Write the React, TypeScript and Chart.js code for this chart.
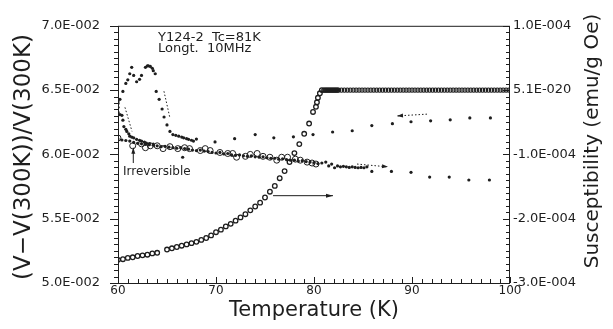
import React, { useEffect, useRef } from "react";
import { Chart, registerables } from "chart.js";

Chart.register(...registerables);

const FONT = '"DejaVu Sans", "Liberation Sans", sans-serif';
const INK = "#1e1e1e";

// ---- axis ticks ----
const xTicks = [60, 70, 80, 90, 100];
const leftTicks = [0.05, 0.055, 0.06, 0.065, 0.07];
const rightTicks = [-3, -2, -1, 0, 1]; // units of 1E-004 emu/g Oe

// ---- susceptibility (right axis, units of 1E-004), open circles ----
const suscT = [60.0, 60.5, 61.0, 61.5, 62.0, 62.5, 63.0, 63.5, 64.0, 65.0, 65.5, 66.0, 66.5, 67.0, 67.5, 68.0, 68.5, 69.0, 69.5, 70.0, 70.5, 71.0, 71.5, 72.0, 72.5, 73.0, 73.5, 74.0, 74.5, 75.0, 75.5, 76.0, 76.5, 77.0, 77.5, 78.0, 78.5, 79.0, 79.5, 79.9, 80.2, 80.3, 80.4, 80.6, 80.8];
const suscV = [-2.64, -2.63, -2.61, -2.60, -2.58, -2.57, -2.56, -2.54, -2.53, -2.48, -2.46, -2.44, -2.42, -2.40, -2.38, -2.36, -2.33, -2.30, -2.26, -2.21, -2.17, -2.12, -2.08, -2.03, -1.98, -1.93, -1.87, -1.81, -1.75, -1.67, -1.58, -1.49, -1.37, -1.26, -1.12, -0.98, -0.84, -0.68, -0.52, -0.34, -0.26, -0.19, -0.12, -0.05, 0];
const suscFlatT = [81.0, 81.1, 81.2, 81.3, 81.4, 81.5, 81.6, 81.7, 81.8, 81.9, 82.0, 82.1, 82.2, 82.3, 82.4, 82.5, 82.8, 83.1, 83.4, 83.7, 84.0, 84.3, 84.6, 84.9, 85.2, 85.5, 85.8, 86.1, 86.4, 86.7, 87.0, 87.3, 87.6, 87.9, 88.2, 88.5, 88.8, 89.1, 89.4, 89.7, 90.0, 90.3, 90.6, 90.9, 91.2, 91.5, 91.8, 92.1, 92.4, 92.7, 93.0, 93.3, 93.6, 93.9, 94.2, 94.5, 94.8, 95.1, 95.4, 95.7, 96.0, 96.3, 96.6, 96.9, 97.2, 97.5, 97.8, 98.1, 98.4, 98.7, 99.0, 99.3, 99.6, 99.9];
const suscFlatV = [0, 0, 0, 0, 0, 0, 0, 0, 0, 0, 0, 0, 0, 0, 0, 0, 0, 0, 0, 0, 0, 0, 0, 0, 0, 0, 0, 0, 0, 0, 0, 0, 0, 0, 0, 0, 0, 0, 0, 0, 0, 0, 0, 0, 0, 0, 0, 0, 0, 0, 0, 0, 0, 0, 0, 0, 0, 0, 0, 0, 0, 0, 0, 0, 0, 0, 0, 0, 0, 0, 0, 0, 0, 0];

// ---- (V-V(300K))/V(300K), left axis ----
// peak branch (filled dots)
const peakT = [60.0, 60.0, 60.2, 60.5, 60.8, 61.0, 61.2, 61.4, 61.6, 61.9, 62.2, 62.4, 62.8, 63.0, 63.1, 63.3, 63.5, 63.6, 63.8, 63.9, 64.2, 64.5, 64.7, 65.0, 65.3, 65.6, 65.9, 66.2, 66.5, 66.7, 67.0, 67.2, 67.5, 67.7, 68.0];
const peakV = [0.06395, 0.06410, 0.06428, 0.06490, 0.06552, 0.06580, 0.06627, 0.06677, 0.06614, 0.06565, 0.06584, 0.06614, 0.06677, 0.06689, 0.06689, 0.06684, 0.06670, 0.06651, 0.06627, 0.06490, 0.06428, 0.06353, 0.06291, 0.06229, 0.06179, 0.06154, 0.06148, 0.06142, 0.06135, 0.06129, 0.06122, 0.06117, 0.06110, 0.06104, 0.06119];
// sparse upper continuation (filled dots)
const upperT = [69.9, 71.9, 74.0, 75.9, 77.9, 79.9, 81.9, 83.9, 85.9, 88.0, 89.9, 91.9, 93.9, 95.9, 98.0];
const upperV = [0.06097, 0.06122, 0.06154, 0.06129, 0.06137, 0.06154, 0.06174, 0.06184, 0.06224, 0.06239, 0.06254, 0.06261, 0.06269, 0.06284, 0.06284];
// falling branch near 60 K (filled dots)
const fallT = [60.0, 60.0, 60.2, 60.4, 60.5, 60.6, 60.8, 60.9, 61.1, 61.2, 61.4, 61.6, 61.9, 62.2, 62.4, 62.7, 62.9, 63.2, 63.6];
const fallV = [0.06366, 0.06328, 0.06310, 0.06304, 0.06266, 0.06216, 0.06195, 0.06179, 0.06160, 0.06142, 0.06135, 0.06129, 0.06117, 0.06110, 0.06104, 0.06095, 0.06087, 0.06084, 0.06080];
// lower dense band (filled dots)
const bandT = [60.0, 60.4, 60.8, 61.2, 61.6, 62.0, 62.4, 62.8, 63.2, 63.6, 64.0, 64.4, 64.8, 65.2, 65.6, 66.0, 66.4, 66.8, 67.2, 67.6, 68.0, 68.4, 68.8, 69.2, 69.6, 70.0, 70.4, 70.8, 71.2, 71.6, 72.0, 72.4, 72.8, 73.2, 73.6, 74.0, 74.4, 74.8, 75.2, 75.6, 76.0, 76.4, 76.8, 77.2, 77.6, 78.0, 78.4, 78.8, 79.2, 79.6, 80.0, 80.4, 80.8, 81.2, 81.5, 81.8, 82.1, 82.4, 82.7, 83.0, 83.3, 83.6, 83.9, 84.2, 84.5, 84.8, 85.1, 85.4];
const bandV = [0.06119, 0.06112, 0.06108, 0.06104, 0.06093, 0.06086, 0.06082, 0.06078, 0.06075, 0.06071, 0.06067, 0.06060, 0.06063, 0.06056, 0.06052, 0.06048, 0.06052, 0.06045, 0.06041, 0.06034, 0.06030, 0.06034, 0.06026, 0.06022, 0.06015, 0.06011, 0.06015, 0.06004, 0.06007, 0.05996, 0.05993, 0.05996, 0.05989, 0.05985, 0.05989, 0.05981, 0.05978, 0.05981, 0.05974, 0.05970, 0.05970, 0.05963, 0.05966, 0.05959, 0.05955, 0.05955, 0.05948, 0.05951, 0.05944, 0.05940, 0.05937, 0.05929, 0.05933, 0.05940, 0.05910, 0.05925, 0.05896, 0.05910, 0.05903, 0.05907, 0.05903, 0.05899, 0.05903, 0.05899, 0.05896, 0.05899, 0.05896, 0.05903];
// sparse lower continuation (filled dots)
const tailT = [66.6, 85.9, 87.9, 89.9, 91.8, 93.8, 95.8, 97.9];
const tailV = [0.05978, 0.05868, 0.05868, 0.05861, 0.05824, 0.05824, 0.05801, 0.05801];
// open circles in the band
const openT = [60.0, 61.5, 62.4, 62.8, 63.3, 64.0, 64.6, 65.3, 66.1, 66.8, 67.3, 68.4, 68.9, 69.4, 70.4, 71.2, 71.7, 72.1, 73.0, 73.5, 74.2, 74.8, 75.5, 76.2, 76.7, 77.3, 78.1, 78.6, 79.3, 79.8, 80.2];
const openV = [0.06127, 0.06067, 0.06082, 0.06052, 0.06067, 0.06067, 0.06045, 0.06060, 0.06045, 0.06052, 0.06045, 0.06030, 0.06045, 0.06030, 0.06015, 0.06007, 0.06007, 0.05978, 0.05985, 0.06000, 0.06007, 0.05985, 0.05978, 0.05955, 0.05978, 0.05978, 0.05963, 0.05955, 0.05940, 0.05933, 0.05925];

const pts = (xs: number[], ys: number[]) => xs.map((x, i) => ({ x, y: ys[i] }));

function arrow(ctx: CanvasRenderingContext2D, x1: number, y1: number, x2: number, y2: number, dashed: boolean, head = 6) {
  ctx.save();
  ctx.strokeStyle = INK;
  ctx.fillStyle = INK;
  ctx.lineWidth = 1;
  if (dashed) ctx.setLineDash([1.5, 2]);
  ctx.beginPath();
  ctx.moveTo(x1, y1);
  ctx.lineTo(x2, y2);
  ctx.stroke();
  ctx.setLineDash([]);
  if (head > 0) {
    const a = Math.atan2(y2 - y1, x2 - x1);
    ctx.beginPath();
    ctx.moveTo(x2, y2);
    ctx.lineTo(x2 - head * Math.cos(a) + 2 * Math.sin(a), y2 - head * Math.sin(a) - 2 * Math.cos(a));
    ctx.lineTo(x2 - head * Math.cos(a) - 2 * Math.sin(a), y2 - head * Math.sin(a) + 2 * Math.cos(a));
    ctx.closePath();
    ctx.fill();
  }
  ctx.restore();
}

const decor = {
  id: "decor",
  afterDraw(chart: any) {
    const { ctx, chartArea: a, scales } = chart;
    const sx = scales.x, sy = scales.y, sy2 = scales.y2;
    ctx.save();
    ctx.strokeStyle = INK;
    ctx.lineWidth = 1;
    // frame
    ctx.strokeRect(a.left + 0.5, a.top + 0.5, a.right - a.left - 1, a.bottom - a.top);
    // left ticks (outward)
    for (let k = 0; k <= 40; k++) {
      const py = Math.round(sy.getPixelForValue(0.05 + k * 0.0005)) + 0.5;
      const len = k % 10 === 0 ? 8 : 4;
      ctx.beginPath(); ctx.moveTo(a.left - len, py); ctx.lineTo(a.left + 0.5, py); ctx.stroke();
    }
    // right ticks (inward)
    for (let k = 0; k <= 40; k++) {
      const py = Math.round(sy2.getPixelForValue(-3 + k * 0.1)) + 0.5;
      const len = k % 10 === 0 ? 7 : 4;
      ctx.beginPath(); ctx.moveTo(a.right - len, py); ctx.lineTo(a.right, py); ctx.stroke();
    }
    // bottom ticks (inward)
    for (let t = 60; t <= 100; t++) {
      const px = Math.round(sx.getPixelForValue(t)) + 0.5;
      const len = t % 10 === 0 ? 6 : 4;
      ctx.beginPath(); ctx.moveTo(px, a.bottom); ctx.lineTo(px, a.bottom - len); ctx.stroke();
    }
    // axis titles
    ctx.fillStyle = INK;
    ctx.textAlign = "center";
    ctx.textBaseline = "middle";
    ctx.font = `21px ${FONT}`;
    ctx.fillText("Temperature (K)", (a.left + a.right) / 2, 311);
    ctx.save();
    ctx.translate(24, 157);
    ctx.rotate(-Math.PI / 2);
    ctx.font = `23px ${FONT}`;
    ctx.fillText("(V\u2212V(300K))/V(300K)", 0, 0);
    ctx.restore();
    ctx.save();
    ctx.translate(593, 141);
    ctx.rotate(-Math.PI / 2);
    ctx.font = `20px ${FONT}`;
    ctx.fillText("Susceptibility (emu/g Oe)", 0, 0);
    ctx.restore();
    // annotation text
    ctx.textAlign = "left";
    ctx.textBaseline = "alphabetic";
    ctx.font = `13px ${FONT}`;
    ctx.fillText("Y124-2  Tc=81K", sx.getPixelForValue(64.08), sy.getPixelForValue(0.06881));
    ctx.fillText("Longt.  10MHz", sx.getPixelForValue(64.08), sy.getPixelForValue(0.06799));
    ctx.font = `12px ${FONT}`;
    ctx.fillText("Irreversible", sx.getPixelForValue(60.51), sy.getPixelForValue(0.05843));
    ctx.restore();
    const X = (t: number) => sx.getPixelForValue(t);
    const Y = (v: number) => sy.getPixelForValue(v);
    arrow(ctx, X(61.56), Y(0.05933), X(61.56), Y(0.06052), false, 6);
    arrow(ctx, X(60.71), Y(0.06366), X(61.43), Y(0.06179), true, 0);
    arrow(ctx, X(64.69), Y(0.06491), X(65.31), Y(0.06279), true, 0);
    arrow(ctx, X(91.53), Y(0.06313), X(88.47), Y(0.06299), true, 6);
    arrow(ctx, X(84.39), Y(0.05925), X(87.55), Y(0.05903), true, 6);
    arrow(ctx, X(75.82), Y(0.05679), X(81.94), Y(0.05679), false, 7);
  },
};

export default function App() {
  const ref = useRef<HTMLCanvasElement | null>(null);
  useEffect(() => {
    if (!ref.current) return;
    const dot = { pointRadius: 1.6, pointBackgroundColor: INK, pointBorderWidth: 0, showLine: false };
    const chart = new Chart(ref.current, {
      type: "scatter",
      data: {
        datasets: [
          { data: pts(peakT, peakV), yAxisID: "y", ...dot },
          { data: pts(upperT, upperV), yAxisID: "y", ...dot },
          { data: pts(fallT, fallV), yAxisID: "y", ...dot },
          { data: pts(bandT, bandV), yAxisID: "y", ...dot },
          { data: pts(tailT, tailV), yAxisID: "y", ...dot },
          { data: pts(openT, openV), yAxisID: "y", pointRadius: 3, pointBorderWidth: 1, pointBorderColor: INK, pointBackgroundColor: "rgba(255,255,255,0)", showLine: false },
          { data: pts(suscT, suscV), yAxisID: "y2", pointRadius: 2.3, pointBorderWidth: 1.3, pointBorderColor: INK, pointBackgroundColor: "rgba(255,255,255,0)", showLine: false },
          { data: pts(suscFlatT, suscFlatV), yAxisID: "y2", pointRadius: 2.1, pointBorderWidth: 1.1, pointBorderColor: INK, pointBackgroundColor: "rgba(255,255,255,0)", showLine: false },
        ] as any,
      },
      options: {
        animation: false,
        responsive: false,
        maintainAspectRatio: false,
        events: [],
        layout: { padding: { top: 15, left: 0, right: 0, bottom: 0 } },
        plugins: { legend: { display: false }, tooltip: { enabled: false } },
        scales: {
          x: {
            type: "linear",
            position: "bottom",
            min: xTicks[0],
            max: xTicks[xTicks.length - 1],
            afterBuildTicks: (s: any) => { s.ticks = xTicks.map((v) => ({ value: v })); },
            ticks: { padding: 1, color: INK, font: { family: FONT, size: 12 }, maxRotation: 0, autoSkip: false, callback: (v: any) => String(v) },
            grid: { display: false, drawTicks: false },
            border: { display: false },
            afterFit: (s: any) => { s.height = 46; },
          },
          y: {
            type: "linear",
            position: "left",
            min: leftTicks[0],
            max: leftTicks[leftTicks.length - 1],
            afterBuildTicks: (s: any) => { s.ticks = leftTicks.map((v) => ({ value: v })); },
            ticks: { padding: 18, color: INK, font: { family: FONT, size: 13 }, autoSkip: false, callback: (v: any) => (Number(v) * 100).toFixed(1) + "E-002" },
            grid: { display: false, drawTicks: false },
            border: { display: false },
            afterFit: (s: any) => { s.width = 118; },
          },
          y2: {
            type: "linear",
            position: "right",
            min: rightTicks[0],
            max: rightTicks[rightTicks.length - 1],
            afterBuildTicks: (s: any) => { s.ticks = rightTicks.map((v) => ({ value: v })); },
            ticks: {
              padding: 3, color: INK, font: { family: FONT, size: 13 }, autoSkip: false,
              callback: (v: any) => {
                const n = Number(v);
                if (Math.abs(n) < 1e-9) return "5.1E-020";
                return (n < 0 ? "-" : "") + Math.abs(n).toFixed(1) + "E-004";
              },
            },
            grid: { display: false, drawTicks: false },
            border: { display: false },
            afterFit: (s: any) => { s.width = 103; },
          },
        },
      } as any,
      plugins: [decor],
    });
    return () => chart.destroy();
  }, []);
  return (
    <div style={{ position: "fixed", left: 0, top: 0, width: 613, height: 329, background: "#fff" }}>
      <canvas ref={ref} width={613} height={329} style={{ display: "block" }} />
    </div>
  );
}
